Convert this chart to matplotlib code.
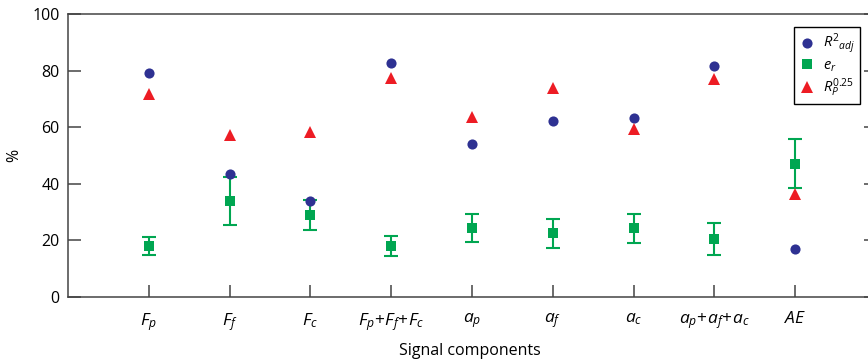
import numpy as np
import matplotlib.pyplot as plt

plt.rcParams.update({
    'font.family': 'Open Sans',
    'font.size': 11.5,
    'mathtext.fontset': 'custom',
    'mathtext.rm': 'Open Sans',
    'mathtext.it': 'Open Sans:italic',
    'mathtext.bf': 'Open Sans:bold',
})

labels = [r'$F_p$', r'$F_f$', r'$F_c$', r'$F_p\!+\!F_f\!+\!F_c$', r'$a_p$',
          r'$a_f$', r'$a_c$', r'$a_p\!+\!a_f\!+\!a_c$', r'$AE$']
r2_adj = [79.3, 43.4, 34.0, 82.6, 54.0, 62.2, 63.3, 81.6, 16.9]
e_r = [18.0, 34.0, 29.0, 18.0, 24.3, 22.5, 24.3, 20.4, 47.1]
e_r_err = [3.3, 8.5, 5.4, 3.4, 5.0, 5.1, 5.2, 5.6, 8.7]
rp = [71.6, 57.4, 58.4, 77.4, 63.7, 74.0, 59.4, 77.2, 36.3]

x = np.arange(1, len(labels) + 1)

blue = '#2e3192'
green = '#00a651'
red = '#ed1c24'
axcol = '#444444'

fig = plt.figure(figsize=(8.68, 3.64), dpi=100)
ax = fig.add_axes([0.0783, 0.184, 0.931, 0.7775])

# error bars first, markers on top
ax.errorbar(x, e_r, yerr=e_r_err, fmt='none', ecolor=green,
            elinewidth=1.5, capsize=5, capthick=1.5, zorder=2)
ax.plot(x, r2_adj, 'o', color=blue, ms=7.3, mew=0, label=r'$R^{2}{}_{adj}$', zorder=3)
ax.plot(x, e_r, 's', color=green, ms=6.5, mew=0, label=r'$e_r$', zorder=3)
ax.plot(x, rp, '^', color=red, ms=8.5, mew=0, label=r'$R_P^{\mathrm{0.25}}$', zorder=3)

ax.set_xlim(0, 10)
ax.set_ylim(0, 100)
ax.set_xticks(x)
ax.set_xticklabels(labels, fontsize=12.5)
ax.set_yticks(np.arange(0, 101, 20))
ax.tick_params(axis='both', direction='in', length=9, width=1.1, color=axcol, pad=10)
ax.tick_params(axis='y', right=True, pad=6)
for s in ax.spines.values():
    s.set_color(axcol)
    s.set_linewidth(1.1)

ax.set_ylabel('%', labelpad=7)
ax.set_xlabel('Signal components')
ax.xaxis.set_label_coords((470 - 68) / 808, -0.163)

leg = ax.legend(loc='upper right', bbox_to_anchor=(860 / 868, 1 - 27 / 364),
                bbox_transform=fig.transFigure, borderaxespad=0, fancybox=False,
                edgecolor='black', framealpha=1, handlelength=1.0,
                handletextpad=0.6, labelspacing=0.15, borderpad=0.35, fontsize=10.5)
leg.get_frame().set_linewidth(1.0)

fig.savefig('out.png', dpi=100)
